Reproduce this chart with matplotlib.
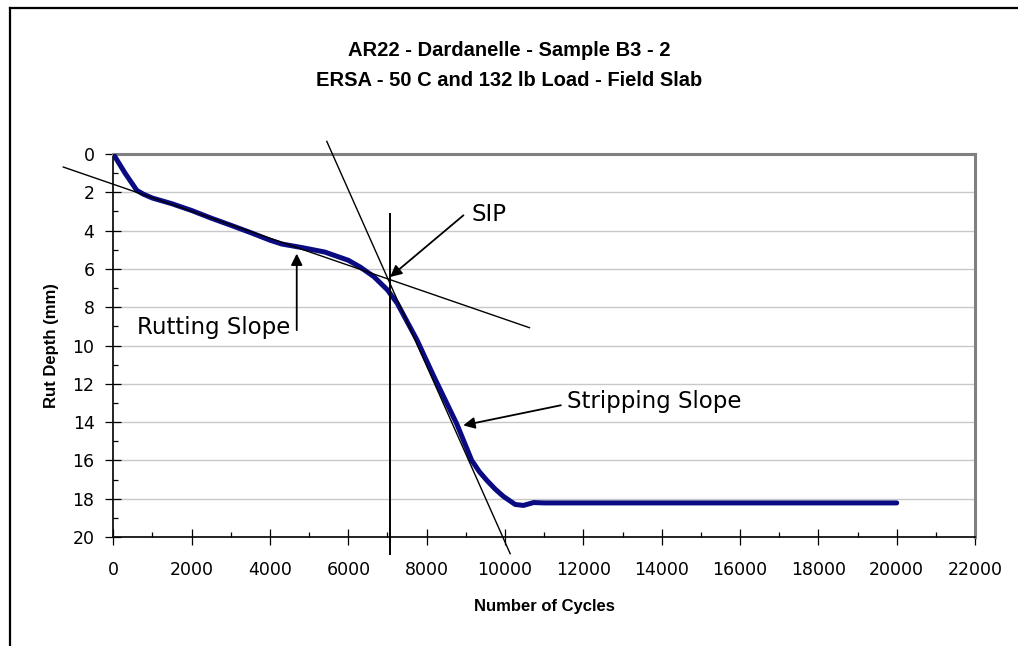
import matplotlib
matplotlib.use("Agg")
import matplotlib.pyplot as plt
from matplotlib.lines import Line2D
from matplotlib.ticker import MultipleLocator

# ====================================
# Data
# ====================================

cycles = [0, 300, 600, 770, 1000, 1500, 2000, 2500, 3000, 3500, 4000, 4300,
          4800, 5400, 6000, 6300, 6650, 7000, 7250, 7750, 8180, 8770, 9150,
          9350, 9540, 9750, 9960, 10260, 10470, 10730, 11000, 12000, 14000,
          16000, 18000, 20000]
rut_depth = [0.0, 1.0, 1.9, 2.1, 2.3, 2.6, 2.95, 3.35, 3.72, 4.1, 4.5, 4.7,
             4.88, 5.12, 5.55, 5.9, 6.4, 7.1, 7.8, 9.7, 11.6, 14.1, 16.0,
             16.6, 17.05, 17.5, 17.88, 18.3, 18.35, 18.2, 18.22, 18.22,
             18.22, 18.22, 18.22, 18.22]

# construction lines: rutting slope, stripping slope, SIP marker
rutting_x = [-1277, 10625]
rutting_y = [0.68, 9.07]
stripping_x = [5450, 10132]
stripping_y = [-0.66, 20.87]
sip_x = [7067, 7067]
sip_y = [3.11, 20.87]

title_lines = ["AR22 - Dardanelle - Sample B3 - 2",
               "ERSA - 50 C and 132 lb Load - Field Slab"]

narrow = ["Liberation Sans Narrow", "Liberation Sans", "DejaVu Sans"]
plt.rcParams["font.family"] = ["DejaVu Sans"]

# ====================================
# Figure
# ====================================

fig = plt.figure(figsize=(10.18, 6.46), dpi=100)
ax = fig.add_axes([0.1113, 0.1687, 0.8465, 0.5929])

ax.plot(cycles, rut_depth, color="#0a0a82", lw=3.6, solid_capstyle="round",
        solid_joinstyle="round", zorder=3)

ax.plot(rutting_x, rutting_y, color="black", lw=1.0, clip_on=False, zorder=4)
ax.plot(stripping_x, stripping_y, color="black", lw=1.0, clip_on=False, zorder=4)
ax.plot(sip_x, sip_y, color="black", lw=1.4, clip_on=False, zorder=4)

ax.set_xlim(0, 22000)
ax.set_ylim(20, 0)

ax.xaxis.set_major_locator(MultipleLocator(2000))
ax.xaxis.set_minor_locator(MultipleLocator(1000))
ax.yaxis.set_major_locator(MultipleLocator(2))
ax.yaxis.set_minor_locator(MultipleLocator(1))

ax.tick_params(which="major", direction="inout", length=11, width=0.9,
               labelsize=12.5, colors="black")
ax.tick_params(axis="y", which="major", pad=8)
ax.tick_params(axis="x", which="major", pad=12)
ax.tick_params(which="minor", direction="in", length=3.8, width=0.9)

ax.grid(axis="y", which="major", color="#c8c8c8", lw=1.0)
ax.set_axisbelow(True)

for side in ["left", "bottom"]:
    ax.spines[side].set_color("black")
    ax.spines[side].set_linewidth(1.2)
for side in ["top", "right"]:
    ax.spines[side].set_color("#808080")
    ax.spines[side].set_linewidth(2.2)

ax.set_xlabel("Number of Cycles", fontsize=12, fontweight="bold",
              family=narrow, labelpad=14)
ax.set_ylabel("Rut Depth (mm)", fontsize=12, fontweight="bold",
              family=narrow, labelpad=10)

# ====================================
# Annotations
# ====================================

arrow = dict(arrowstyle="-|>", color="black", lw=1.3, mutation_scale=17,
             shrinkA=0, shrinkB=0)

ax.annotate("", xy=(4683, 5.2), xytext=(4683, 9.2), arrowprops=arrow,
            zorder=5)
ax.text(600, 9.42, "Rutting Slope", fontsize=16.5, ha="left", va="baseline")

ax.annotate("", xy=(7067, 6.42), xytext=(8939, 3.2), arrowprops=arrow,
            zorder=5)
ax.text(9153, 3.52, "SIP", fontsize=16.5, ha="left", va="baseline")

ax.annotate("", xy=(8934, 14.17), xytext=(11426, 13.12), arrowprops=arrow,
            zorder=5)
ax.text(11575, 13.24, "Stripping Slope", fontsize=16.5, ha="left",
        va="baseline")

# ====================================
# Titles and outer frame
# ====================================

fig.text(0.5, 1 - 50 / 646, title_lines[0], ha="center", va="center",
         fontsize=14.5, fontweight="bold", family=narrow)
fig.text(0.5, 1 - 81 / 646, title_lines[1], ha="center", va="center",
         fontsize=14.5, fontweight="bold", family=narrow)

fig.add_artist(Line2D([10 / 1018, 1.0], [1 - 8 / 646, 1 - 8 / 646],
                      color="black", lw=1.6))
fig.add_artist(Line2D([10 / 1018, 10 / 1018], [0.0, 1 - 8 / 646],
                      color="black", lw=1.6))

fig.savefig("out.png", dpi=100)
